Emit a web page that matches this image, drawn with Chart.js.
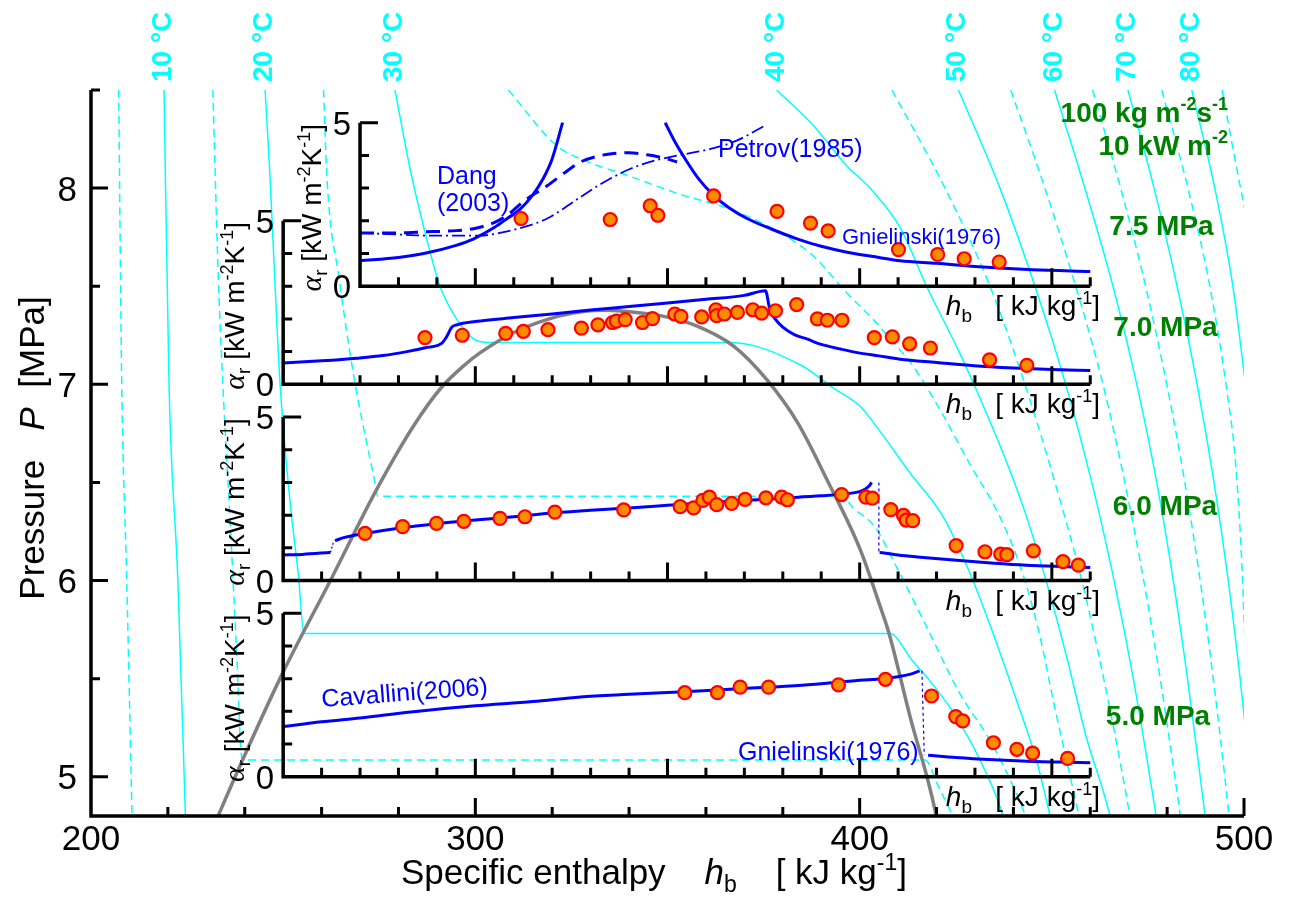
<!DOCTYPE html>
<html><head><meta charset="utf-8">
<script src="https://cdn.jsdelivr.net/npm/chart.js@4.4.1/dist/chart.umd.min.js"></script>
<style>html,body{margin:0;padding:0;background:#fff}canvas{display:block}</style>
</head><body>
<canvas id="c" width="1294" height="900"></canvas>
<script>
// ---------------- DATA ----------------
const hRange = [200, 500];            // specific enthalpy axis [kJ/kg]
const pRange = [4.8, 8.5];            // pressure axis [MPa]
const hMainTicks = [200, 300, 400, 500];
const pMainTicks = [5, 6, 7, 8];
const alphaPerMPa = 6;                // inset alpha scale (kW m-2 K-1 per MPa of main axis)
const insetBase = [7.5, 7.0, 6.0, 5.0];
const insetStart = [270, 250, 250, 250];
const insetEnd = 460;
const insetLabels = ['7.5 MPa', '7.0 MPa', '6.0 MPa', '5.0 MPa'];

// isotherms [h, P]
const iso05 = [[207.2,8.5],[208.0,7.0],[209.3,6.0],[210.7,4.78]];
const iso10 = [[219.0,8.5],[220.3,7.0],[222.6,6.0],[224.6,4.78]];
const iso15 = [[231.7,8.5],[233.2,7.5],[234.3,7.0],[236.2,6.3],[237.9,5.63],[239.2,5.1],[239.6,5.086],[417.0,5.086],[420.5,4.95],[424.8,4.78]];
const iso20 = [[245.3,8.5],[246.6,8.05],[247.9,7.5],[249.2,7.0],[251.8,6.4],[254.0,6.02],[255.4,5.73],[407.9,5.73],[413.6,5.594],[418.8,5.476],[424.0,5.338],[428.7,5.185],[432.6,5.032],[436.0,4.878],[437.6,4.78]];
const iso25 = [[260.5,8.5],[261.4,8.05],[264.6,7.535],[268.3,7.05],[273.9,6.497],[274.6,6.43],[395.5,6.43],[398.3,6.37],[403.9,6.275],[410.4,6.038],[417.4,5.765],[426.0,5.426],[433.9,5.186],[440.8,4.915],[443.6,4.78]];
const iso30 = [[279.1,8.5],[283.0,8.1],[286.5,7.807],[290.8,7.5],[295.2,7.331],[297.8,7.263],[300.4,7.222],[304.0,7.213],[366.5,7.213],[384.4,7.101],[393.1,6.982],[400.1,6.888],[405.3,6.76],[413.1,6.548],[421.7,6.326],[428.7,6.037],[434.7,5.731],[440.8,5.39],[446.0,5.084],[449.8,4.78]];
const iso35 = [[308.6,8.5],[321.2,8.216],[329.8,8.13],[338.5,8.072],[353.2,7.969],[366.2,7.893],[379.2,7.774],[387.9,7.654],[396.6,7.467],[403.5,7.331],[409.6,7.195],[413.3,7.11],[420.9,6.871],[428.5,6.599],[436.0,6.344],[441.5,6.088],[446.5,5.75],[450.8,5.35],[454.8,5.0],[457.3,4.78]];
const iso40 = [[378.4,8.5],[388.0,8.318],[396.6,8.114],[402.7,8.0],[410.5,7.8],[417.4,7.5],[426.0,7.16],[430.4,6.97],[437.3,6.65],[443.0,6.35],[448.5,6.0],[454.0,5.6],[459.0,5.2],[463.0,4.95],[465.5,4.78]];
const iso45 = [[408.4,8.5],[422.2,8.0],[433.9,7.5],[443.0,7.0],[450.8,6.5],[457.8,6.0],[463.5,5.5],[468.5,5.0],[470.5,4.78]];
const iso50 = [[425.7,8.5],[436.5,8.0],[445.6,7.5],[453.6,7.0],[460.4,6.5],[466.2,6.0],[471.2,5.5],[475.5,5.0],[477.3,4.78]];
const iso55 = [[439.3,8.5],[448.2,8.0],[456.2,7.5],[463.3,7.0],[469.0,6.5],[473.9,6.0],[478.2,5.5],[482.0,5.0],[483.6,4.78]];
const iso60 = [[450.7,8.5],[458.6,8.0],[465.9,7.5],[472.1,7.0],[477.3,6.5],[481.6,6.0],[485.3,5.5],[488.6,5.0],[490.0,4.78]];
const iso65 = [[460.6,8.5],[467.9,8.0],[474.4,7.5],[479.9,7.0],[484.6,6.5],[488.6,6.0],[492.0,5.5],[495.0,5.0],[496.2,4.78]];
const iso70 = [[469.8,8.5],[476.6,8.0],[482.6,7.5],[487.8,7.0],[492.2,6.5],[495.9,6.0],[499.0,5.5],[501.7,5.0],[502.8,4.78]];
const iso75 = [[478.6,8.5],[485.4,8.0],[491.1,7.5],[495.3,7.0],[497.8,6.6],[499.4,6.1],[500.4,5.6]];
const iso80 = [[486.4,8.5],[492.4,8.0],[497.1,7.5],[500.4,7.0]];
const iso85 = [[494.3,8.5],[499.1,8.0],[504.5,7.5]];
const isoSolid = [iso10, iso20, iso30, iso40, iso50, iso60, iso70, iso80];
const isoDashed = [iso05, iso15, iso25, iso35, iso45, iso55, iso65, iso75, iso85];
const tempLabels = ['10 \u00B0C','20 \u00B0C','30 \u00B0C','40 \u00B0C','50 \u00B0C','60 \u00B0C','70 \u00B0C','80 \u00B0C'];

// saturation dome [h, P]
const dome = [[231.3,4.72],[239.2,5.075],[249.6,5.518],[262.6,6.012],[274.3,6.463],[284,6.79],[291,6.98],[297.3,7.1],[301.2,7.16],[309.9,7.263],[318.6,7.33],[325.5,7.363],[332.5,7.377],[340,7.37],[348.1,7.35],[357.7,7.297],[367.2,7.195],[376,7.02],[384,6.8],[391.5,6.514],[400.1,6.16],[405.3,5.87],[407.5,5.74],[413.2,5.3],[419.6,4.83],[420.3,4.75]];

// inset 7.5 MPa  [h, alpha]
const dang75 = [[270,0.78],[280,0.88],[286.6,1.0],[295,1.25],[299.6,1.45],[305,1.8],[308.3,2.07],[311.6,2.35],[315,2.8],[317.7,3.3],[320,3.9],[322.7,5.0]];
const dangDash75 = [[270,1.63],[280,1.63],[286.6,1.66],[295,1.7],[299.6,1.76],[305,1.95],[308.3,2.17],[312.6,2.6],[318.7,3.07],[323,3.45],[327.4,3.8],[332,3.98],[336,4.06],[340,4.08],[344.7,4.02],[349,3.92],[352.5,3.8]];
const petrov75 = [[270,1.63],[280,1.58],[286.6,1.55],[295,1.55],[301.2,1.55],[308.3,1.68],[313,1.82],[318.7,2.07],[323,2.38],[327.4,2.73],[333,3.15],[338.6,3.5],[344,3.75],[349,3.91],[355,4.05],[362,4.22],[368,4.45],[375,4.89]];
const gniel75 = [[349.4,5.0],[352,4.4],[355.1,3.8],[358,3.3],[362,2.78],[366,2.4],[370.7,2.07],[377,1.75],[383.7,1.45],[390,1.22],[396.7,1.04],[405,0.88],[410.5,0.78],[420,0.7],[430,0.6],[445,0.5],[460,0.45]];
const exp75 = [[311.9,2.07],[335.1,2.04],[345.5,2.46],[347.5,2.17],[362,2.76],[378.5,2.29],[387.2,1.93],[391.8,1.69],[410.1,1.12],[420.3,0.97],[427.2,0.84],[436.3,0.74]];

// inset 7.0 MPa
const model70 = [[250,0.65],[260,0.72],[269.2,0.8],[276,0.88],[282.2,1.0],[287,1.12],[291.3,1.26],[292.5,1.45],[293.9,1.75],[295.2,1.82],[300,1.92],[310,2.04],[320,2.15],[330,2.27],[340,2.38],[350,2.49],[360,2.6],[370,2.72],[375.5,2.86],[376.6,2.3],[378,2.0],[380,1.75],[383,1.52],[386.4,1.38],[390,1.22],[395,1.08],[399.4,0.97],[405,0.87],[410.5,0.77],[420,0.67],[429.7,0.57],[440,0.5],[450,0.45],[460,0.42]];
const exp70 = [[286.9,1.43],[296.6,1.50],[307.9,1.56],[312.5,1.62],[318.9,1.67],[327.6,1.72],[331.9,1.82],[335.7,1.89],[336.7,1.93],[339,1.98],[343.5,1.89],[346.1,2.01],[351.9,2.15],[353.5,2.08],[358.9,2.06],[362.6,2.28],[362.8,2.10],[364.8,2.15],[368.2,2.2],[372.2,2.28],[374.5,2.18],[378.1,2.25],[383.6,2.44],[389,2.0],[391.6,1.96],[395.4,1.96],[403.8,1.43],[408.5,1.45],[413,1.24],[418.4,1.11],[433.8,0.75],[443.5,0.58]];

// inset 6.0 MPa
const liquid60 = [[250,0.78],[255,0.8],[262.3,0.86]];
const jumpA60 = [[262.3,0.86],[263.2,1.22]];
const model60 = [[263.5,1.22],[266,1.32],[271.3,1.44],[280,1.6],[290,1.74],[300,1.85],[310,1.95],[320.7,2.07],[330,2.15],[340,2.22],[350,2.3],[360,2.38],[370,2.45],[380,2.52],[390,2.59],[396,2.65],[400,2.72],[401.5,2.8],[402.5,2.9],[403.1,3.0]];
const jumpB60 = [[405.0,3.0],[405.0,0.86]];
const gniel60 = [[405.2,0.86],[410,0.78],[415,0.72],[426,0.61],[435,0.53],[443.4,0.47],[452,0.43],[460,0.40]];
const exp60 = [[271.3,1.44],[281.1,1.65],[289.9,1.75],[297.0,1.81],[306.4,1.90],[312.9,1.95],[320.7,2.09],[338.6,2.16],[353.3,2.26],[356.8,2.22],[359.2,2.45],[360.9,2.55],[362.8,2.32],[366.7,2.36],[370.2,2.48],[375.6,2.53],[379.7,2.55],[381.2,2.47],[395.3,2.63],[401.6,2.55],[403.3,2.52],[408.1,2.17],[411.4,1.99],[412.1,1.85],[413.8,1.83],[425.1,1.07],[432.6,0.88],[436.7,0.81],[438.3,0.79],[445.2,0.91],[452.9,0.58],[456.9,0.47]];

// inset 5.0 MPa
const cav50 = [[250,1.53],[260,1.68],[270,1.8],[283.9,1.99],[300,2.17],[315,2.3],[327.3,2.44],[340,2.52],[354.5,2.6],[370,2.7],[385,2.8],[400,2.95],[406,3.0],[410,3.06],[413,3.13],[415.6,3.24]];
const jump50 = [[416.2,3.24],[416.8,0.66]];
const gniel50 = [[417.8,0.66],[425,0.59],[435,0.52],[445,0.47],[452,0.45],[460,0.43]];
const exp50 = [[354.5,2.57],[363,2.57],[368.9,2.74],[376.3,2.74],[394.5,2.81],[406.7,2.98],[418.7,2.47],[425,1.84],[426.8,1.71],[434.8,1.04],[440.9,0.84],[445,0.72],[454.1,0.56]];

// ---------------- STYLE / BUILD ----------------
const F = '"Liberation Sans", Arial, sans-serif';
const FS = '"Liberation Serif", "Times New Roman", serif';
const CYAN = '#00ffff', BLUE = '#0000ff', GREEN = '#008000';
const axisIds = ['a75', 'a70', 'a60', 'a50'];

const pts = arr => arr.map(([x, y]) => ({x, y}));
function curve(arr, axis, color, width, dash, order, smooth = true) {
  return {data: pts(arr), yAxisID: axis, showLine: true, borderColor: color, borderWidth: width,
    borderDash: dash || [], pointRadius: 0, pointHoverRadius: 0, fill: false, order,
    cubicInterpolationMode: smooth ? 'monotone' : 'default', tension: 0};
}
function marks(arr, axis) {
  return {data: pts(arr), yAxisID: axis, showLine: false, pointRadius: 6.5, pointHoverRadius: 6.5,
    pointBackgroundColor: '#ff8c00', pointBorderColor: '#ff0000', pointBorderWidth: 2.2, order: 0};
}

const datasets = [];
isoSolid.forEach(a => datasets.push(curve(a, 'y', CYAN, 1.5, [], 6)));
isoDashed.forEach(a => datasets.push(curve(a, 'y', CYAN, 1.5, [8, 5], 6)));
datasets.push(curve(dome, 'y', '#808080', 3.5, [], 5));
// 7.5
datasets.push(curve(dang75, 'a75', BLUE, 3, [], 2));
datasets.push(curve(dangDash75, 'a75', BLUE, 3, [14, 8], 2));
datasets.push(curve(petrov75, 'a75', BLUE, 1.8, [13, 4, 2, 4], 2));
datasets.push(curve(gniel75, 'a75', BLUE, 3, [], 2));
datasets.push(marks(exp75, 'a75'));
// 7.0
datasets.push(curve(model70, 'a70', BLUE, 3, [], 2));
datasets.push(marks(exp70, 'a70'));
// 6.0
datasets.push(curve(liquid60, 'a60', BLUE, 3, [], 2));
datasets.push(curve(jumpA60, 'a60', BLUE, 1.2, [2, 2], 2, false));
datasets.push(curve(model60, 'a60', BLUE, 3, [], 2));
datasets.push(curve(jumpB60, 'a60', BLUE, 1.2, [3, 3], 2, false));
datasets.push(curve(gniel60, 'a60', BLUE, 3, [], 2));
datasets.push(marks(exp60, 'a60'));
// 5.0
datasets.push(curve(cav50, 'a50', BLUE, 3, [], 2));
datasets.push(curve(jump50, 'a50', BLUE, 1.2, [3, 3], 2, false));
datasets.push(curve(gniel50, 'a50', BLUE, 3, [], 2));
datasets.push(marks(exp50, 'a50'));

const scales = {
  x: {type: 'linear', min: hRange[0], max: hRange[1], display: false},
  y: {type: 'linear', min: pRange[0], max: pRange[1], display: false}
};
insetBase.forEach((b, i) => {
  scales[axisIds[i]] = {type: 'linear', position: 'left', display: false,
    min: (pRange[0] - b) * alphaPerMPa, max: (pRange[1] - b) * alphaPerMPa};
});

function rich(ctx, parts, x, y, align) {
  let w = 0;
  parts.forEach(p => { ctx.font = p[1]; w += ctx.measureText(p[0]).width; });
  let sx = align === 'right' ? x - w : align === 'center' ? x - w / 2 : x;
  parts.forEach(p => { ctx.font = p[1]; ctx.fillText(p[0], sx, y + (p[2] || 0)); sx += ctx.measureText(p[0]).width; });
  return w;
}
function rotRich(ctx, parts, x, y, align, ang) {
  ctx.save(); ctx.translate(x, y); ctx.rotate(ang); rich(ctx, parts, 0, 0, align); ctx.restore();
}

const deco = {
  id: 'deco',
  beforeDraw(chart) {
    const c = chart.ctx; c.save(); c.fillStyle = '#fff'; c.fillRect(0, 0, chart.width, chart.height); c.restore();
  },
  afterDatasetsDraw(chart) {
    const ctx = chart.ctx, xs = chart.scales.x, ys = chart.scales.y;
    const X0 = xs.getPixelForValue(hRange[0]), X1 = xs.getPixelForValue(hRange[1]);
    const Y0 = ys.getPixelForValue(pRange[0]), Y1 = ys.getPixelForValue(pRange[1]);
    ctx.save();
    ctx.strokeStyle = '#000'; ctx.lineWidth = 3.5; ctx.lineJoin = 'miter'; ctx.lineCap = 'butt';
    ctx.beginPath(); ctx.moveTo(X0, Y1); ctx.lineTo(X0, Y0); ctx.lineTo(X1, Y0); ctx.stroke();
    ctx.lineWidth = 3;
    ctx.beginPath();
    for (let p = 5; p <= 8.5001; p += 0.5) {
      const yy = ys.getPixelForValue(p), len = Math.abs(p - Math.round(p)) < 1e-6 ? 17 : 9;
      ctx.moveTo(X0, yy); ctx.lineTo(X0 + len, yy);
    }
    for (let h = 220; h <= 500; h += 20) {
      const xx = xs.getPixelForValue(h), len = h % 100 === 0 ? 18 : 9;
      ctx.moveTo(xx, Y0); ctx.lineTo(xx, Y0 - len);
    }
    ctx.stroke();
    // insets
    insetBase.forEach((b, i) => {
      const as = chart.scales[axisIds[i]];
      const ax = xs.getPixelForValue(insetStart[i]), bx = xs.getPixelForValue(insetEnd);
      const a0 = as.getPixelForValue(0), a5 = as.getPixelForValue(5);
      ctx.lineWidth = 3.5;
      ctx.beginPath(); ctx.moveTo(ax, a5); ctx.lineTo(ax, a0); ctx.lineTo(bx, a0); ctx.stroke();
      ctx.lineWidth = 3;
      ctx.beginPath();
      for (let a = 1; a <= 5; a++) {
        const yy = as.getPixelForValue(a), len = a === 5 ? 18 : 9;
        ctx.moveTo(ax, yy); ctx.lineTo(ax + len, yy);
      }
      for (let h = insetStart[i] + 10; h <= insetEnd; h += 10) {
        const xx = xs.getPixelForValue(h), len = h % 50 === 0 && h !== insetEnd ? 18 : 9;
        ctx.moveTo(xx, a0); ctx.lineTo(xx, a0 - len);
      }
      ctx.stroke();
    });
    ctx.restore();
  },
  afterDraw(chart) {
    const ctx = chart.ctx, xs = chart.scales.x, ys = chart.scales.y;
    const X0 = xs.getPixelForValue(hRange[0]), Y0 = ys.getPixelForValue(pRange[0]);
    ctx.save();
    ctx.textBaseline = 'alphabetic';
    ctx.fillStyle = '#000';
    ctx.font = `35px ${F}`; ctx.textAlign = 'center';
    hMainTicks.forEach(v => ctx.fillText(String(v), xs.getPixelForValue(v), Y0 + 34));
    ctx.textAlign = 'right';
    pMainTicks.forEach(v => ctx.fillText(String(v), X0 - 14, ys.getPixelForValue(v) + 12.5));
    ctx.textAlign = 'left';
    rich(ctx, [['Specific enthalpy    ', `35px ${F}`], ['h', `italic 35px ${F}`], ['b', `23px ${F}`, 8],
      ['    [ kJ kg', `35px ${F}`], ['-1', `23px ${F}`, -14], [']', `35px ${F}`]], 654, 884, 'center');
    rotRich(ctx, [['Pressure   ', `35px ${F}`], ['P', `italic 35px ${F}`], ['  [MPa]', `35px ${F}`]], 44, 448, 'center', -Math.PI / 2);

    // insets text
    insetBase.forEach((b, i) => {
      const as = chart.scales[axisIds[i]];
      const ax = xs.getPixelForValue(insetStart[i]);
      const a0 = as.getPixelForValue(0);
      ctx.fillStyle = '#000';
      ctx.font = `33px ${F}`; ctx.textAlign = 'right';
      ctx.fillText('5', ax - 9, as.getPixelForValue(5) + 12);
      ctx.fillText('0', ax - 9, a0 + 12);
      ctx.textAlign = 'left';
      rotRich(ctx, [['\u03B1', `italic 30px ${FS}`], ['r', `19px ${F}`, 6], [' [kW m', `28px ${F}`], ['-2', `18px ${F}`, -11],
        ['K', `28px ${F}`], ['-1', `18px ${F}`, -11], [']', `28px ${F}`]], ax - 39, as.getPixelForValue(2.4), 'center', -Math.PI / 2);
      rich(ctx, [['h', `italic 28px ${F}`], ['b', `19px ${F}`, 7], ['   [ kJ kg', `28px ${F}`], ['-1', `18px ${F}`, -11], [']', `28px ${F}`]],
        1100, a0 + 29, 'right');
    });

    // isotherm labels
    ctx.fillStyle = CYAN;
    isoSolid.forEach((a, i) => {
      const x = xs.getPixelForValue(a[0][0]) - 3;
      rotRich(ctx, [[tempLabels[i], `bold 28px ${F}`]], x + 10, 82, 'left', -Math.PI / 2);
    });

    // green labels
    ctx.fillStyle = GREEN;
    rich(ctx, [['100 kg m', `bold 28px ${F}`], ['-2', `bold 18px ${F}`, -12], ['s', `bold 28px ${F}`], ['-1', `bold 18px ${F}`, -12]], 1228, 122, 'right');
    rich(ctx, [['10 kW m', `bold 28px ${F}`], ['-2', `bold 18px ${F}`, -12]], 1228, 155, 'right');
    const mpaPos = [[1161.5, 235], [1165.5, 336], [1165, 515], [1158, 725]];
    insetLabels.forEach((t, i) => rich(ctx, [[t, `bold 28px ${F}`]], mpaPos[i][0], mpaPos[i][1], 'center'));

    // model labels
    ctx.fillStyle = BLUE;
    rich(ctx, [['Dang', `25px ${F}`]], 437, 184, 'left');
    rich(ctx, [['(2003)', `25px ${F}`]], 437, 211, 'left');
    rich(ctx, [['Petrov(1985)', `25px ${F}`]], 718, 157, 'left');
    rich(ctx, [['Gnielinski(1976)', `22px ${F}`]], 842, 244, 'left');
    rotRich(ctx, [['Cavallini(2006)', `25px ${F}`]], 322, 707, 'left', -4.3 * Math.PI / 180);
    rich(ctx, [['Gnielinski(1976)', `25px ${F}`]], 738, 760, 'left');
    ctx.restore();
  }
};

new Chart(document.getElementById('c'), {
  type: 'scatter',
  data: {datasets},
  options: {
    responsive: false, animation: false, events: [],
    layout: {padding: {left: 91, right: 50, top: 90, bottom: 84}},
    plugins: {legend: {display: false}, tooltip: {enabled: false}},
    scales
  },
  plugins: [deco]
});
</script>
</body></html>
